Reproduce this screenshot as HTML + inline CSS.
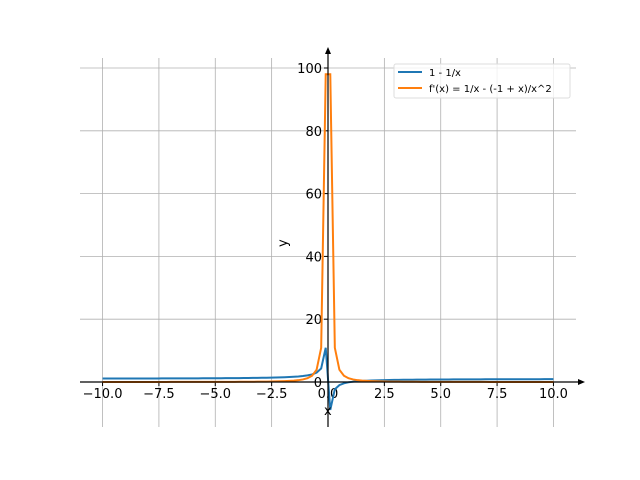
<!DOCTYPE html>
<html><head><style>body{margin:0;background:#fff}svg{display:block}text{font-family:"DejaVu Sans","Liberation Sans",sans-serif;font-size:13px;fill:#000}</style></head>
<body>
<svg id="s" width="640" height="480" xmlns="http://www.w3.org/2000/svg">
<g id="grid" stroke="#b0b0b0" stroke-width="0.8"></g>
<g id="ticks"></g>
<polyline id="b" fill="none" stroke="#1f77b4" stroke-width="2"/>
<polyline id="o" fill="none" stroke="#ff7f0e" stroke-width="2"/>
<line x1="80" y1="382" x2="580" y2="382" stroke="#000" stroke-width="1.2"/>
<polygon points="585,382 578,379 578,385" fill="#000"/>
<line x1="328" y1="427" x2="328" y2="52" stroke="#000" stroke-width="1.2"/>
<polygon points="328,47 325,54 331,54" fill="#000"/>
<text x="324" y="415">x</text>
<text transform="translate(287,247) rotate(-90)">y</text>
<rect x="394" y="64" width="176" height="34" fill="#fff" fill-opacity="0.8" stroke="#ddd" rx="2"/>
<line x1="398" y1="72" x2="422" y2="72" stroke="#1f77b4" stroke-width="2"/>
<line x1="398" y1="88" x2="422" y2="88" stroke="#ff7f0e" stroke-width="2"/>
<text x="429" y="76" style="font-size:10px">1 - 1/x</text>
<text x="429" y="92" style="font-size:10px">f'(x) = 1/x - (-1 + x)/x^2</text>
</svg>
<script>
var X=x=>328+x*22.545,Y=y=>382-y*3.14;
var g=document.getElementById('grid'),t=document.getElementById('ticks'),ns='http://www.w3.org/2000/svg';
function el(p,n,a,tx){var e=document.createElementNS(ns,n);for(var k in a)e.setAttribute(k,a[k]);if(tx)e.textContent=tx;p.appendChild(e);}
for(var v=-10;v<=10;v+=2.5){var px=X(v);el(g,'line',{x1:px,x2:px,y1:58,y2:427});el(t,'line',{x1:px,x2:px,y1:382,y2:386,stroke:'#000'});
var s=v.toFixed(1).replace('-','\u2212');el(t,'text',{x:px,y:398,'text-anchor':'middle'},s);}
for(var v=0;v<=100;v+=20){var py=Y(v);el(g,'line',{x1:80,x2:576,y1:py,y2:py});el(t,'line',{x1:324,x2:328,y1:py,y2:py,stroke:'#000'});
el(t,'text',{x:322,y:py+5,'text-anchor':'end'},String(v));}
var b=[],o=[];for(var i=0;i<100;i++){var x=-10+20*i/99;b.push(X(x)+','+Y(1-1/x));o.push(X(x)+','+Y(1/(x*x)));}
document.getElementById('b').setAttribute('points',b.join(' '));
document.getElementById('o').setAttribute('points',o.join(' '));
</script>
</body></html>
